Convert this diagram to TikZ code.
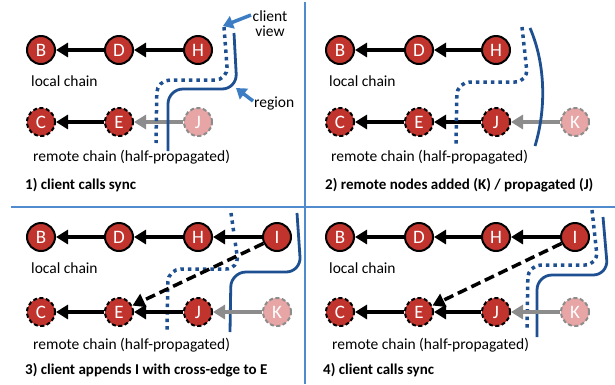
\documentclass[tikz,border=0pt]{standalone}
\usepackage{fontspec}
\setmainfont{Carlito}
\usetikzlibrary{arrows.meta}
\definecolor{nodered}{RGB}{192,52,45}
\definecolor{palered}{RGB}{232,165,165}
\definecolor{navy}{RGB}{30,80,145}
\definecolor{sepblue}{RGB}{80,140,205}
\definecolor{labblue}{RGB}{60,125,195}
\definecolor{garrow}{RGB}{140,140,140}
\tikzset{
  base/.style={circle,minimum size=28pt,inner sep=0pt,line width=2pt,text=white,font=\fontsize{19}{19}\selectfont},
  loc/.style={base,fill=nodered,draw=black},
  rem/.style={base,fill=nodered,draw=black,dash pattern=on 4pt off 2.5pt},
  pale/.style={base,fill=palered,draw=garrow,dash pattern=on 4pt off 2.5pt},
  arr/.style={line width=3.5pt,black,-{Triangle[length=12pt,width=14pt]}},
  garr/.style={line width=3.5pt,garrow,-{Triangle[length=12pt,width=14pt]}},
  xarr/.style={line width=3.5pt,black,dash pattern=on 10pt off 5pt,-{Triangle[length=12pt,width=14pt]}},
  dotc/.style={line width=3.5pt,navy,dash pattern=on 3.5pt off 4pt,rounded corners=13pt},
  solc/.style={line width=2.8pt,navy,rounded corners=15pt},
  labarr/.style={line width=3.5pt,labblue,-{Triangle[length=10pt,width=13pt]}},
  lbl/.style={anchor=west,font=\fontsize{15.5}{15.5}\selectfont,inner sep=0pt},
  captxt/.style={anchor=west,font=\fontsize{15}{15}\selectfont\bfseries,inner sep=0pt},
  sep/.style={line width=1.4pt,sepblue}
}
\begin{document}
\begin{tikzpicture}[x=1pt,y=-1pt]
\useasboundingbox (0,0) rectangle (615,384);
\fill[white] (0,0) rectangle (615,384);
% separators
\draw[sep] (305,2) -- (305,384);
\draw[sep] (11,207) -- (615,207);

% ---------- panel 1 ----------
\node[loc] (aB) at (41,50) {B};
\node[loc] (aD) at (119,50) {D};
\node[loc] (aH) at (198,50) {H};
\node[rem] (aC) at (41,122) {C};
\node[rem] (aE) at (119,122) {E};
\node[pale] (aJ) at (198,122) {J};
\draw[arr] (aD) -- (aB);
\draw[arr] (aH) -- (aD);
\draw[arr] (aE) -- (aC);
\draw[garr] (aJ) -- (aE);
\node[lbl] (al) at (31,81) {local chain};
\node[lbl] (ar) at (33,157) {remote chain (half-propagated)};
\node[captxt] (ac) at (25,185) {1) client calls sync};
\draw[dotc] (224,27) -- (228,80) -- (157,80) -- (156,143);
\draw[solc] (234,33) -- (237,89) -- (168,89) -- (168,151);
\node[font=\fontsize{15.5}{15}\selectfont,align=center,inner sep=0pt] (cv) at (270,24) {client\\view};
\node[lbl] (rg) at (254,103) {region};
\coordinate (cvs) at (251,15);
\coordinate (cvt) at (223,26);
\coordinate (rgs) at (253,101);
\coordinate (rgt) at (236,88);
\draw[labarr] (cvs) -- (cvt);
\draw[labarr] (rgs) -- (rgt);

% ---------- panel 2 ----------
\node[loc] (bB) at (340,50) {B};
\node[loc] (bD) at (419,50) {D};
\node[loc] (bH) at (496,50) {H};
\node[rem] (bC) at (340,122) {C};
\node[rem] (bE) at (419,122) {E};
\node[rem] (bJ) at (496,122) {J};
\node[pale] (bK) at (575,122) {K};
\draw[arr] (bD) -- (bB);
\draw[arr] (bH) -- (bD);
\draw[arr] (bE) -- (bC);
\draw[arr] (bJ) -- (bE);
\draw[garr] (bK) -- (bJ);
\node[lbl] (bl) at (329,81) {local chain};
\node[lbl] (br) at (331,157) {remote chain (half-propagated)};
\node[captxt] (bc) at (325,185) {2) remote nodes added (K) / propagated (J)};
\draw[dotc] (522,27) -- (528,82) -- (457,82) -- (456,144);
\draw[line width=2.8pt,navy] (530,28) .. controls (546,65) and (546,110) .. (535,146);

% ---------- panel 3 ----------
\node[loc] (cB) at (41,237) {B};
\node[loc] (cD) at (119,237) {D};
\node[loc] (cH) at (198,237) {H};
\node[loc] (cI) at (277,237) {I};
\node[rem] (cC) at (41,312) {C};
\node[rem] (cE) at (119,312) {E};
\node[rem] (cJ) at (198,312) {J};
\node[pale] (cK) at (277,312) {K};
\draw[dotc] (231,213) -- (239,269) -- (168,269) -- (167,333);
\draw[solc] (297,213) -- (301,272) -- (231,272) -- (230,332);
\draw[arr] (cD) -- (cB);
\draw[arr] (cH) -- (cD);
\draw[arr] (cI) -- (cH);
\draw[arr] (cE) -- (cC);
\draw[arr] (cJ) -- (cE);
\draw[garr] (cK) -- (cJ);
\draw[xarr] (cI) -- (cE);
\node[lbl] (cl) at (31,268) {local chain};
\node[lbl] (cr) at (33,345) {remote chain (half-propagated)};
\node[captxt] (cc) at (25,370) {3) client appends I with cross-edge to E};

% ---------- panel 4 ----------
\node[loc] (dB) at (340,237) {B};
\node[loc] (dD) at (419,237) {D};
\node[loc] (dH) at (496,237) {H};
\node[loc] (dI) at (575,237) {I};
\node[rem] (dC) at (340,312) {C};
\node[rem] (dE) at (419,312) {E};
\node[rem] (dJ) at (496,312) {J};
\node[pale] (dK) at (575,312) {K};
\draw[dotc] (592,210) -- (598,265) -- (528,265) -- (527,328);
\draw[solc] (603,217) -- (608,275) -- (537,275) -- (537,337);
\draw[arr] (dD) -- (dB);
\draw[arr] (dH) -- (dD);
\draw[arr] (dI) -- (dH);
\draw[arr] (dE) -- (dC);
\draw[arr] (dJ) -- (dE);
\draw[garr] (dK) -- (dJ);
\draw[xarr] (dI) -- (dE);
\node[lbl] (dl) at (329,268) {local chain};
\node[lbl] (dr) at (332,345) {remote chain (half-propagated)};
\node[captxt] (dc) at (323,370) {4) client calls sync};
\end{tikzpicture}
\end{document}
